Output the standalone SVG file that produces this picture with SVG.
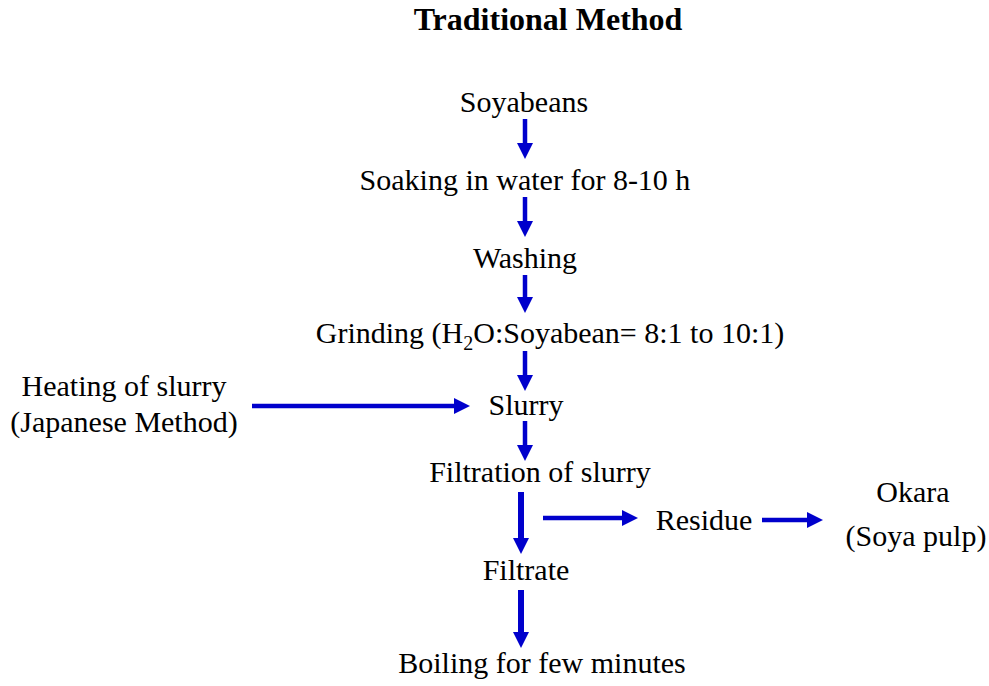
<svg xmlns="http://www.w3.org/2000/svg" width="989" height="686" viewBox="0 0 989 686">
<defs>
<style>
text{font-family:"Liberation Serif","Times New Roman",serif;font-size:30px;fill:#000;text-anchor:middle}
.title{font-size:32px;font-weight:bold}
.arr{stroke:#0000CC;stroke-width:4.5;fill:none;marker-end:url(#ah)}
.thick{stroke-width:6}
</style>
<marker id="ah" markerUnits="userSpaceOnUse" markerWidth="16" markerHeight="16" viewBox="0 0 16 16" refX="5" refY="8" orient="auto">
<path d="M0,0 L16,8 L0,16 z" fill="#0000CC"/>
</marker>
</defs>
<rect width="989" height="686" fill="#fff"/>
<g id="title"><text class="title" x="548" y="30">Traditional Method</text></g>
<g id="soyabeans"><text x="524" y="112">Soyabeans</text></g>
<g id="soaking"><text x="525" y="190">Soaking in water for 8-10 h</text></g>
<g id="washing"><text x="525" y="268">Washing</text></g>
<g id="grinding"><text x="550" y="343">Grinding (H<tspan font-size="20" dy="7">2</tspan><tspan dy="-7">O:Soyabean= 8:1 to 10:1)</tspan></text></g>
<g id="heating"><text x="124" y="396">Heating of slurry</text><text x="124" y="432">(Japanese Method)</text></g>
<g id="slurry"><text x="526" y="415">Slurry</text></g>
<g id="filtration"><text x="540" y="482">Filtration of slurry</text></g>
<g id="residue"><text x="704" y="530">Residue</text></g>
<g id="okara"><text x="913" y="502">Okara</text><text x="916" y="546">(Soya pulp)</text></g>
<g id="filtrate"><text x="526" y="580">Filtrate</text></g>
<g id="boiling"><text x="542" y="673">Boiling for few minutes</text></g>
<g id="connectors">
<line class="arr" x1="525" y1="119" x2="525" y2="148"/>
<line class="arr" x1="525" y1="197" x2="525" y2="226"/>
<line class="arr" x1="525" y1="275" x2="525" y2="302"/>
<line class="arr" x1="525" y1="351" x2="525" y2="380"/>
<line class="arr" x1="525" y1="421" x2="525" y2="450"/>
<line class="arr thick" x1="521" y1="492" x2="521" y2="543"/>
<line class="arr thick" x1="521" y1="590" x2="521" y2="637"/>
<line class="arr" x1="252" y1="406" x2="459" y2="406"/>
<line class="arr" x1="543" y1="518" x2="627" y2="518"/>
<line class="arr" x1="762" y1="520" x2="812" y2="520"/>
</g>
</svg>
